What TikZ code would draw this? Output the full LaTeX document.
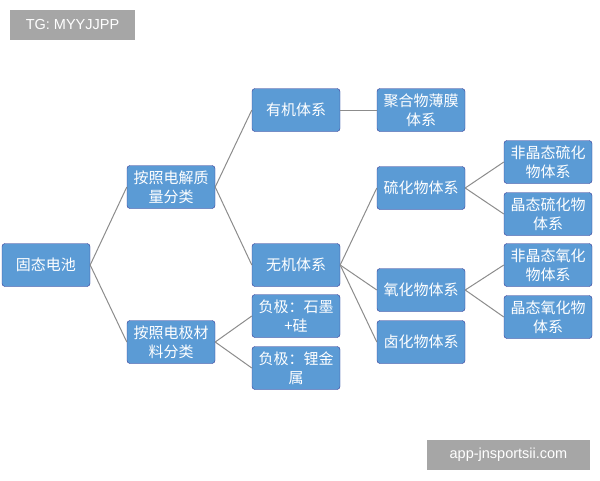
\documentclass[tikz,border=0pt]{standalone}
\usepackage{fontspec}
\newfontfamily\cjk{Noto Sans CJK SC}
\setmainfont{Liberation Sans}
\begin{document}
\begin{tikzpicture}[x=1pt,y=-1pt,
  box/.style={draw=blue!45!gray!80!black,fill={rgb,255:red,91;green,155;blue,213},rounded corners=3pt,
    minimum width=88pt,minimum height=43pt,align=center,text=white,
    font=\cjk\fontsize{15}{19}\selectfont,inner sep=1pt},
  tag/.style={fill=gray!70,text=white,font=\fontsize{14.5}{16}\selectfont,minimum height=30pt},
  link/.style={draw=gray!90,line width=1pt}]
\useasboundingbox (0,0) rectangle (600,480);
\node[tag,minimum width=125pt] (tg) at (72.5,25) {TG: MYYJJPP};
\node[tag,minimum width=163pt] (app) at (508.5,455) {app-jnsportsii.com};

\node[box] (root) at (46,265) {固态电池};
\node[box] (el) at (171,187) {按照电解质\\量分类};
\node[box] (ed) at (171,342) {按照电极材\\料分类};
\node[box] (org) at (296,110) {有机体系};
\node[box] (inorg) at (296,265) {无机体系};
\node[box] (neg1) at (296,316) {负极：石墨\\+硅};
\node[box] (neg2) at (296,368) {负极：锂金\\属};
\node[box] (poly) at (421,110) {聚合物薄膜\\体系};
\node[box] (sulf) at (421,188) {硫化物体系};
\node[box] (oxi) at (421,290) {氧化物体系};
\node[box] (hal) at (421,342) {卤化物体系};
\node[box] (asulf) at (548,162) {非晶态硫化\\物体系};
\node[box] (csulf) at (548,214) {晶态硫化物\\体系};
\node[box] (aoxi) at (548,265) {非晶态氧化\\物体系};
\node[box] (coxi) at (548,317) {晶态氧化物\\体系};

\foreach \a/\b in {root/el,root/ed,el/org,el/inorg,ed/neg1,ed/neg2,org/poly,
  inorg/sulf,inorg/oxi,inorg/hal,sulf/asulf,sulf/csulf,oxi/aoxi,oxi/coxi}
  \draw[link] (\a.east) -- (\b.west);
\end{tikzpicture}
\end{document}
